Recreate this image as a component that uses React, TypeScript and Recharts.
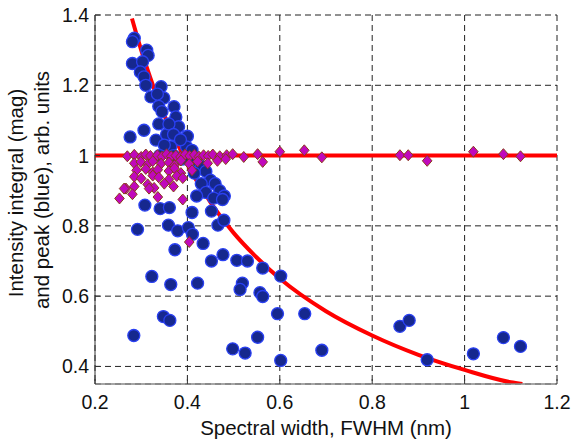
import { ComposedChart, Scatter, Line, XAxis, YAxis, CartesianGrid, ReferenceLine } from 'recharts'

const X_TICKS = [0.2, 0.4, 0.6, 0.8, 1.0, 1.2]
const Y_TICKS = [0.4, 0.6, 0.8, 1.0, 1.2, 1.4]

// peak (blue circles)
const peakX = [
  0.285, 0.281, 0.312, 0.315, 0.281, 0.303, 0.298, 0.306, 0.31, 0.343, 0.321, 0.349, 0.335, 0.371, 0.338,
  0.345, 0.375, 0.338, 0.381, 0.276, 0.306, 0.332, 0.4, 0.364, 0.398, 0.41, 0.355, 0.36, 0.37, 0.385,
  0.35, 0.34, 0.37, 0.39, 0.42, 0.43, 0.44, 0.415, 0.45, 0.46, 0.43, 0.47, 0.44, 0.48, 0.457,
  0.476, 0.42, 0.308, 0.341, 0.361, 0.41, 0.452, 0.466, 0.479, 0.292, 0.359, 0.379, 0.402, 0.411, 0.434,
  0.373, 0.452, 0.477, 0.507, 0.53, 0.563, 0.602, 0.323, 0.364, 0.422, 0.519, 0.514, 0.557, 0.563, 0.595,
  0.348, 0.362, 0.284, 0.552, 0.498, 0.525, 0.602, 0.654, 0.691, 0.86, 0.88, 0.919, 1.019, 1.084, 1.121,
]
const peakY = [
  1.334, 1.324, 1.3, 1.285, 1.262, 1.267, 1.238, 1.224, 1.2, 1.196, 1.167, 1.164, 1.175, 1.139, 1.14,
  1.125, 1.11, 1.09, 1.082, 1.053, 1.072, 1.044, 1.055, 1.025, 1.025, 1.015, 1.06, 1.09, 1.06, 1.045,
  1.03, 1.0, 1.0, 0.99, 0.985, 0.97, 0.955, 0.95, 0.93, 0.92, 0.92, 0.9, 0.895, 0.885, 0.879,
  0.875, 0.885, 0.859, 0.849, 0.852, 0.838, 0.842, 0.802, 0.816, 0.79, 0.802, 0.786, 0.795, 0.776, 0.75,
  0.732, 0.7, 0.718, 0.702, 0.7, 0.68, 0.657, 0.656, 0.633, 0.637, 0.637, 0.619, 0.61, 0.599, 0.55,
  0.542, 0.531, 0.488, 0.483, 0.45, 0.438, 0.417, 0.55, 0.446, 0.514, 0.531, 0.419, 0.436, 0.482, 0.457,
]

// integral (magenta diamonds)
const magX = [
  0.27, 0.285, 0.3, 0.31, 0.32, 0.335, 0.345, 0.355, 0.365, 0.375, 0.385, 0.395, 0.405, 0.415, 0.425,
  0.435, 0.445, 0.455, 0.47, 0.485, 0.498, 0.522, 0.552, 0.563, 0.6, 0.653, 0.691, 0.86, 0.878, 0.919,
  1.019, 1.084, 1.121, 0.285, 0.299, 0.314, 0.325, 0.343, 0.36, 0.372, 0.386, 0.404, 0.422, 0.444, 0.465,
  0.483, 0.29, 0.31, 0.325, 0.336, 0.36, 0.372, 0.386, 0.41, 0.285, 0.3, 0.325, 0.338, 0.36, 0.377,
  0.39, 0.267, 0.285, 0.314, 0.328, 0.35, 0.37, 0.253, 0.281, 0.336, 0.39, 0.404, 0.263, 0.317,
]
const magY = [
  0.998, 1.002, 0.996, 1.003, 0.999, 1.001, 0.997, 1.004, 0.998, 1.0, 0.996, 1.003, 0.999, 1.002, 0.997,
  1.001, 0.999, 1.003, 0.998, 1.001, 1.004, 0.996, 1.004, 0.982, 1.011, 1.015, 0.995, 1.001, 1.001, 0.985,
  1.011, 1.004, 0.998, 0.978, 0.982, 0.975, 0.984, 0.977, 0.98, 0.972, 0.986, 0.976, 0.983, 0.978, 0.985,
  0.99, 0.958, 0.962, 0.952, 0.96, 0.956, 0.964, 0.95, 0.958, 0.94, 0.935, 0.943, 0.938, 0.932, 0.942,
  0.936, 0.906, 0.912, 0.918, 0.908, 0.92, 0.912, 0.878, 0.89, 0.882, 0.875, 0.754, 0.906, 0.906,
]

// fitted curve
const fitX = [0.28, 0.3, 0.32, 0.35, 0.38, 0.4, 0.45, 0.5, 0.55, 0.6, 0.7, 0.8, 0.9, 1.0, 1.1, 1.125]
const fitY = [1.39, 1.3, 1.22, 1.115, 1.03, 0.975, 0.867, 0.78, 0.71, 0.65, 0.557, 0.488, 0.433, 0.39, 0.355, 0.35]

const peakData = peakX.map((x, i) => ({ x, y: peakY[i] }))
const magData = magX.map((x, i) => ({ x, y: magY[i] }))
const fitData = fitX.map((x, i) => ({ x, y: fitY[i] }))

const FONT = '"Liberation Sans", Arial, Helvetica, sans-serif'

const XTick = ({ x, y, payload }: any) => (
  <g>
    <line x1={x} y1={y} x2={x} y2={y - 5} stroke="#333" />
    <text x={x} y={y + 25} textAnchor="middle" fontSize={19.5} fontFamily={FONT} fill="#111">
      {String(payload.value)}
    </text>
  </g>
)

const YTick = ({ x, y, payload }: any) => (
  <g>
    <line x1={x} y1={y} x2={x + 5} y2={y} stroke="#333" />
    <text x={x - 6} y={y + 7} textAnchor="end" fontSize={19.5} fontFamily={FONT} fill="#111">
      {String(payload.value)}
    </text>
  </g>
)

const Circle = ({ cx, cy }: any) => (
  <circle cx={cx} cy={cy} r={6} fill="#16288e" stroke="#2a40f2" strokeWidth={1.3} />
)

const Diamond = ({ cx, cy }: any) => (
  <polygon
    points={`${cx},${cy - 5.5} ${cx + 4.8},${cy} ${cx},${cy + 5.5} ${cx - 4.8},${cy}`}
    fill="#c008bc"
    stroke="#8b3a1a"
    strokeWidth={1}
  />
)

const YTitle = () => (
  <g fontFamily={FONT} fontSize={20.5} fill="#111">
    <text transform="translate(23,193) rotate(-90)" textAnchor="middle">Intensity integral (mag)</text>
    <text transform="translate(49,190) rotate(-90)" textAnchor="middle">and peak (blue), arb. units</text>
  </g>
)

export default function App() {
  return (
    <div style={{ position: 'absolute', left: 0, top: 0, background: '#fff' }}>
      <ComposedChart width={573} height={439} margin={{ top: 15, right: 16, bottom: 0, left: 0 }}>
        <CartesianGrid stroke="#222" strokeDasharray="6 4" />
        <XAxis
          type="number"
          dataKey="x"
          domain={[0.2, 1.2]}
          ticks={X_TICKS}
          interval={0}
          height={55}
          tickSize={0}
          tickMargin={0}
          tickLine={false}
          tick={<XTick />}
          axisLine={{ stroke: '#888', strokeWidth: 1.5 }}
          allowDataOverflow
        />
        <YAxis
          type="number"
          dataKey="y"
          domain={[0.35, 1.4]}
          ticks={Y_TICKS}
          interval={0}
          width={95}
          tickSize={0}
          tickMargin={0}
          tickLine={false}
          tick={<YTick />}
          axisLine={{ stroke: '#333' }}
          label={{ content: () => <YTitle /> }}
          allowDataOverflow
        />
        <Scatter data={peakData} shape={<Circle />} isAnimationActive={false} />
        <Scatter data={magData} shape={<Diamond />} isAnimationActive={false} />
        <Line
          data={fitData}
          dataKey="y"
          type="monotone"
          stroke="#ff0000"
          strokeWidth={4}
          dot={false}
          isAnimationActive={false}
        />
        <ReferenceLine y={1} stroke="#ff0000" strokeWidth={4} />
      </ComposedChart>
      <div
        style={{
          position: 'absolute',
          left: 95,
          width: 462,
          top: 417,
          textAlign: 'center',
          fontFamily: FONT,
          fontSize: 20.5,
          color: '#111',
          lineHeight: '22px',
        }}
      >
        Spectral width, FWHM (nm)
      </div>
    </div>
  )
}
